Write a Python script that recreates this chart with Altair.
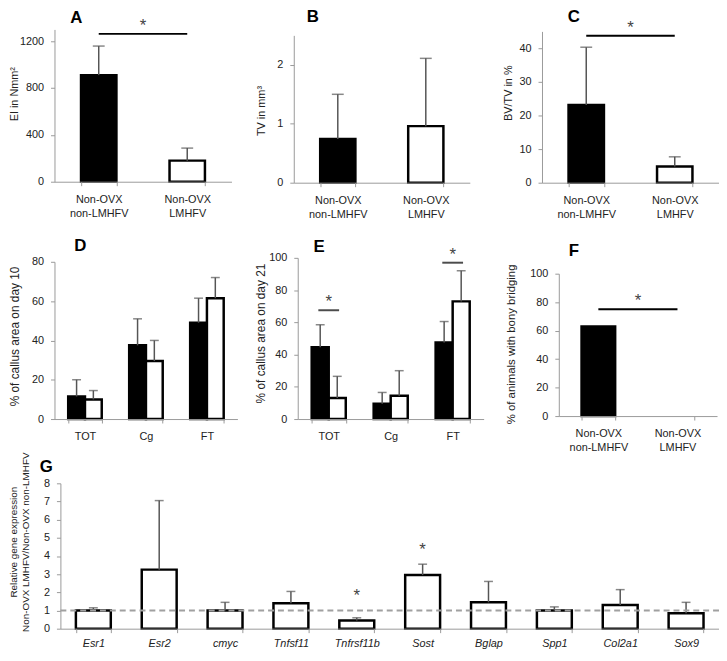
import altair as alt
import pandas as pd

FONT = "Liberation Sans"
AX = "#9a9a9a"
TXT = "#222222"
ERR = "#555555"
W, H = 719, 653

# ---------------- data ----------------
groups = ["Non-OVX non-LMHFV", "Non-OVX LMHFV"]

A_mean = [910, 180]
A_top = [1158, 287]
A_sig = [1262]

B_mean = [0.74, 0.96]
B_top = [1.50, 2.11]

C_mean = [23.1, 4.8]
C_top = [40.3, 7.7]
C_sig = [43.7]

regions = ["TOT", "Cg", "FT"]
D_black = [11.5, 37.5, 49.0]
D_black_top = [20.0, 51.0, 61.5]
D_white = [10.0, 29.5, 61.5]
D_white_top = [14.5, 40.0, 72.0]

E_black = [44.5, 9.5, 47.5]
E_black_top = [58.5, 16.5, 60.5]
E_white = [13.0, 14.5, 73.0]
E_white_top = [26.5, 30.0, 92.0]
E_sig_regions = ["TOT", "FT"]
E_sig_y = [67.5, 97.0]

F_pct = [63, 0]
F_sig = [75]

genes = ["Esr1", "Esr2", "cmyc", "Tnfsf11", "Tnfrsf11b", "Sost", "Bglap", "Spp1", "Col2a1", "Sox9"]
G_mean = [1.0, 3.25, 1.0, 1.4, 0.45, 2.95, 1.45, 1.0, 1.3, 0.85]
G_top = [1.15, 7.05, 1.45, 2.05, 0.6, 3.55, 2.6, 1.2, 2.15, 1.45]
G_star_genes = ["Tnfrsf11b", "Sost"]
G_star_y = [1.55, 4.08]
G_ref = [1.0]


# ---------------- helpers ----------------
def yaxis(title, values, x0, tx, ty, tsize=11):
    return alt.Axis(orient="left", offset=-x0, title=title, values=values, format="d",
                    grid=False, domainColor=AX, tickColor=AX, tickSize=4, labelFont=FONT,
                    labelFontSize=11, labelColor=TXT, labelPadding=7, titleFont=FONT,
                    titleFontSize=tsize, titleFontWeight="normal", titleColor=TXT,
                    titleX=tx, titleY=ty, titleAngle=270, titleAlign="center",
                    titleBaseline="middle", titleLineHeight=12)


def xaxis(y0, pad=8, italic=False, split=False):
    kw = dict(orient="bottom", offset=y0 - H, title=None, domainColor=AX, tickColor=AX,
              tickSize=4, tickBand="extent", labelAngle=0, labelFont=FONT, labelFontSize=11,
              labelColor=TXT, labelPadding=pad, labelLineHeight=14, grid=False, zindex=1)
    if italic:
        kw["labelFontStyle"] = "italic"
    if split:
        kw["labelExpr"] = "split(datum.label, ' ')"
    return alt.Axis(**kw)


def letter(text, px, py):
    return alt.Chart(pd.DataFrame({"l": [text]})).mark_text(
        fontSize=17, fontWeight="bold", font=FONT, color="black", align="left",
        baseline="alphabetic").encode(text="l:N", x=alt.value(px), y=alt.value(py))


FILL = alt.Fill("group:N", scale=alt.Scale(domain=groups, range=["black", "white"]), legend=None)


def two_group(means, tops, dom, yr, yvals, ytitle, tx, ty, tsize, xr, pin, sig=None, cap=12):
    df = pd.DataFrame({"group": groups, "mean": means})
    xs = alt.Scale(domain=groups, range=xr, paddingInner=pin, paddingOuter=pin / 2)
    X = alt.X("group:N", sort=groups, scale=xs, axis=xaxis(yr[0], split=True))
    ys = alt.Scale(domain=dom, range=yr, nice=False)
    ax = yaxis(ytitle, yvals, xr[0], tx, ty, tsize)
    layers = [
        alt.Chart(df).transform_filter("datum.mean > 0").mark_bar(
            stroke="black", strokeWidth=2.5).encode(
            x=X, y=alt.Y("mean:Q", scale=ys, axis=ax), fill=FILL)
    ]
    if tops is not None:
        de = pd.DataFrame({"group": groups, "mean": means, "top": tops})
        layers.append(alt.Chart(de).mark_rule(color=ERR, strokeWidth=1.5).encode(
            x=X, y=alt.Y("mean:Q", scale=ys, axis=ax), y2="top:Q"))
        layers.append(alt.Chart(de).mark_tick(color=ERR, thickness=1.5, size=cap,
                                              orient="horizontal").encode(
            x=X, y=alt.Y("top:Q", scale=ys, axis=ax)))
    if sig is not None:
        ds = pd.DataFrame({"group": [groups[0]], "group2": [groups[1]], "sig": sig})
        layers.append(alt.Chart(ds).mark_rule(color="black", strokeWidth=2).encode(
            x=X, x2="group2:N", y=alt.Y("sig:Q", scale=ys, axis=ax)))
        layers.append(alt.Chart(ds).mark_text(text="*", fontSize=17, color="#444",
                                              baseline="alphabetic", dy=-3,
                                              dx=(xr[1] - xr[0]) / 4, font=FONT).encode(
            x=X, y=alt.Y("sig:Q", scale=ys, axis=ax)))
    return alt.layer(*layers)


def grouped(black, black_top, white, white_top, dom, yr, yvals, ytitle, tx, ty, tsize, xr,
            sig_regions=None, sig_y=None):
    rows = []
    for i, r in enumerate(regions):
        rows.append({"region": r, "group": groups[0], "mean": black[i], "top": black_top[i]})
        rows.append({"region": r, "group": groups[1], "mean": white[i], "top": white_top[i]})
    df = pd.DataFrame(rows)
    xs = alt.Scale(domain=regions, range=xr, paddingInner=0.45, paddingOuter=0.225)
    X = alt.X("region:N", sort=regions, scale=xs, axis=xaxis(yr[0]))
    XO = alt.XOffset("group:N", sort=groups,
                     scale=alt.Scale(domain=groups, paddingInner=0, paddingOuter=0))
    ys = alt.Scale(domain=dom, range=yr, nice=False)
    ax = yaxis(ytitle, yvals, xr[0], tx, ty, tsize)
    layers = [
        alt.Chart(df).mark_bar(stroke="black", strokeWidth=2.5).encode(
            x=X, xOffset=XO, y=alt.Y("mean:Q", scale=ys, axis=ax), fill=FILL),
        alt.Chart(df).mark_rule(color=ERR, strokeWidth=1.5).encode(
            x=X, xOffset=XO, y=alt.Y("mean:Q", scale=ys, axis=ax), y2="top:Q"),
        alt.Chart(df).mark_tick(color=ERR, thickness=1.5, size=9, orient="horizontal").encode(
            x=X, xOffset=XO, y=alt.Y("top:Q", scale=ys, axis=ax)),
    ]
    if sig_regions is not None:
        ds = pd.DataFrame({"region": sig_regions, "sig": sig_y})
        layers.append(alt.Chart(ds).mark_tick(color="black", thickness=2, size=21,
                                              orient="horizontal").encode(
            x=X, y=alt.Y("sig:Q", scale=ys, axis=ax)))
        layers.append(alt.Chart(ds).mark_text(text="*", fontSize=17, color="#444",
                                              baseline="alphabetic", dy=-3, font=FONT).encode(
            x=X, y=alt.Y("sig:Q", scale=ys, axis=ax)))
    return alt.layer(*layers)


def gene_panel(xr, yr):
    df = pd.DataFrame({"gene": genes, "mean": G_mean, "top": G_top})
    xs = alt.Scale(domain=genes, range=xr, paddingInner=0.47, paddingOuter=0.235)
    X = alt.X("gene:N", sort=genes, scale=xs, axis=xaxis(yr[0], pad=5, italic=True))
    ys = alt.Scale(domain=[0, 8], range=yr, nice=False)
    ax = yaxis(["Relative gene expression", "Non-OVX LMHFV/Non-OVX non-LMHFV"],
               list(range(0, 9)), xr[0], -47, 536, tsize=10)
    ds = pd.DataFrame({"gene": G_star_genes, "star": G_star_y})
    main = alt.layer(
        alt.Chart(df).mark_bar(fill="white", stroke="black", strokeWidth=2.5).encode(
            x=X, y=alt.Y("mean:Q", scale=ys, axis=ax)),
        alt.Chart(df).mark_rule(color=ERR, strokeWidth=1.5).encode(
            x=X, y=alt.Y("mean:Q", scale=ys, axis=ax), y2="top:Q"),
        alt.Chart(df).mark_tick(color=ERR, thickness=1.5, size=9, orient="horizontal").encode(
            x=X, y=alt.Y("top:Q", scale=ys, axis=ax)),
        alt.Chart(ds).mark_text(text="*", fontSize=17, color="#444", baseline="alphabetic",
                                font=FONT).encode(
            x=X, y=alt.Y("star:Q", scale=ys, axis=ax)),
    )
    dref = pd.DataFrame({"start": [0.0], "end": [1.0], "ref": G_ref})
    dash = alt.Chart(dref).mark_rule(color="#a0a0a0", strokeWidth=2, strokeDash=[6, 4]).encode(
        x=alt.X("start:Q", scale=alt.Scale(domain=[0, 1], range=xr), axis=None),
        x2="end:Q",
        y=alt.Y("ref:Q", scale=ys, axis=ax))
    return alt.layer(main, dash).resolve_scale(x="independent").resolve_axis(x="independent")


# ---------------- panels (pixel ranges of each plot area) ----------------
pA = two_group(A_mean, A_top, [0, 1300], [172, 18], [0, 400, 800, 1200], "EI in Nmm²",
               -40, 83, 11, [47, 226], 0.6, sig=A_sig)
pB = two_group(B_mean, B_top, [0, 2.5], [173, 24], [0, 1, 2], "TV in mm³",
               -33, 100, 11, [289, 467], 0.6)
pC = two_group(C_mean, C_top, [0, 45], [173, 20], [0, 10, 20, 30, 40], "BV/TV in %",
               -34, 82, 11, [540, 719], 0.6, sig=C_sig)
pD = grouped(D_black, D_black_top, D_white, D_white_top, [0, 80], [412, 253],
             [0, 20, 40, 60, 80], "% of callus area on day 10", -40, 328, 12, [47, 232])
pE = grouped(E_black, E_black_top, E_white, E_white_top, [0, 100], [412, 249],
             [0, 20, 40, 60, 80, 100], "% of callus area on day 21", -38, 325, 12,
             [293, 481], sig_regions=E_sig_regions, sig_y=E_sig_y)
pF = two_group(F_pct, None, [0, 100], [409, 265], [0, 20, 40, 60, 80, 100],
               "% of animals with bony bridging", -48, 336, 11.5, [557, 717], 0.575,
               sig=F_sig)
pG = gene_panel([53, 719], [624, 477])

letters = [letter("A", 63, 12), letter("B", 302, 10), letter("C", 566, 10),
           letter("D", 67, 242), letter("E", 309, 243), letter("F", 567, 247),
           letter("G", 32, 466)]

chart = alt.layer(pA, pB, pC, pD, pE, pF, pG, *letters).resolve_scale(
    x="independent", y="independent", xOffset="independent", fill="independent"
).resolve_axis(x="independent", y="independent").properties(
    width=W, height=H, autosize=alt.AutoSizeParams(type="none"),
    padding={"left": 0, "top": 0, "right": 0, "bottom": 0}
).configure(font=FONT).configure_view(stroke=None)

chart.save("out.html", embed_options={"renderer": "svg", "actions": False})
